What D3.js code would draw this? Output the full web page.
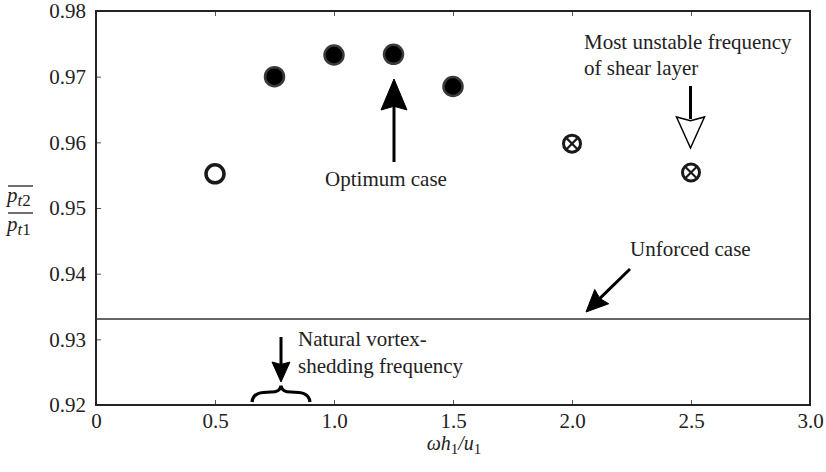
<!DOCTYPE html>
<html><head><meta charset="utf-8">
<script src="https://cdn.jsdelivr.net/npm/d3@7"></script>
<style>
html,body{margin:0;padding:0;background:#fff;}
svg text{font-family:"Liberation Serif","Times New Roman",serif;fill:#222;}
</style></head>
<body><svg id="c" width="826" height="472"></svg>
<script>
// ---- data ----
const xTicks = [0, 0.5, 1.0, 1.5, 2.0, 2.5, 3.0];
const xTickLabels = ["0", "0.5", "1.0", "1.5", "2.0", "2.5", "3.0"];
const yTicks = [0.92, 0.93, 0.94, 0.95, 0.96, 0.97, 0.98];
const yTickLabels = ["0.92", "0.93", "0.94", "0.95", "0.96", "0.97", "0.98"];
const openX = [0.5];
const openY = [0.9552];
const filledX = [0.75, 1.0, 1.25, 1.5];
const filledY = [0.9700, 0.9733, 0.9734, 0.9685];
const crossX = [2.0, 2.5];
const crossY = [0.9598, 0.9554];
const unforcedY = 0.9331;

(function(){
const svg = d3.select("#c");
const L = 96, R = 810, T = 11, B = 405;
const x = d3.scaleLinear().domain([0, 3]).range([L, R]);
const y = d3.scaleLinear().domain([0.92, 0.98]).range([B, T]);
const fs = 21;

// axes
const axB = d3.axisBottom(x).tickValues(xTicks).tickFormat((d,i)=>xTickLabels[i]).tickSizeInner(-5).tickSizeOuter(0).tickPadding(8);
const axL = d3.axisLeft(y).tickValues(yTicks).tickFormat((d,i)=>yTickLabels[i]).tickSizeInner(-5).tickSizeOuter(0).tickPadding(10);
const axT = d3.axisTop(x).tickValues(xTicks).tickFormat("").tickSizeInner(-5).tickSizeOuter(0);

function style(g){
  g.select(".domain").remove();
  g.selectAll(".tick line").attr("stroke","#555").attr("stroke-width",1);
  g.selectAll(".tick text").attr("font-size",fs).attr("font-family","Liberation Serif").attr("fill","#222");
}
svg.append("g").attr("transform",`translate(0,${B})`).call(axB).call(style);
svg.append("g").attr("transform",`translate(${L},0)`).call(axL).call(style);
svg.append("g").attr("transform",`translate(0,${T})`).call(axT).call(style);

// frame
svg.append("rect").attr("x",L).attr("y",T).attr("width",R-L).attr("height",B-T)
  .attr("fill","none").attr("stroke","#222").attr("stroke-width",2);

// unforced line
svg.append("line").attr("x1",L).attr("x2",R).attr("y1",y(unforcedY)).attr("y2",y(unforcedY))
  .attr("stroke","#333").attr("stroke-width",1.5);

// markers
svg.selectAll(".open").data(openX).join("circle").attr("class","open")
  .attr("cx",d=>x(d)).attr("cy",(d,i)=>y(openY[i])).attr("r",9)
  .attr("fill","#fff").attr("stroke","#1a1a1a").attr("stroke-width",3.5);
svg.selectAll(".filled").data(filledX).join("circle").attr("class","filled")
  .attr("cx",d=>x(d)).attr("cy",(d,i)=>y(filledY[i])).attr("r",9.5)
  .attr("fill","#000").attr("stroke","#3a3a3a").attr("stroke-width",2.5);
const cg = svg.selectAll(".cross").data(crossX).join("g").attr("class","cross")
  .attr("transform",(d,i)=>`translate(${x(d)},${y(crossY[i])})`);
cg.append("circle").attr("r",8.5).attr("fill","#fff").attr("stroke","#1a1a1a").attr("stroke-width",3);
const k = 8.5*Math.SQRT1_2;
cg.append("line").attr("x1",-k).attr("y1",-k).attr("x2",k).attr("y2",k).attr("stroke","#1a1a1a").attr("stroke-width",2.2);
cg.append("line").attr("x1",-k).attr("y1",k).attr("x2",k).attr("y2",-k).attr("stroke","#1a1a1a").attr("stroke-width",2.2);

// arrow helper
function arrow(x1,y1,x2,y2,headLen,halfW,open){
  const dx=x2-x1, dy=y2-y1, len=Math.hypot(dx,dy), ux=dx/len, uy=dy/len;
  const bx=x2-ux*headLen, by=y2-uy*headLen;
  const px=-uy, py=ux;
  svg.append("line").attr("x1",x1).attr("y1",y1).attr("x2",open?bx+ux*2:bx+ux*4).attr("y2",open?by+uy*2:by+uy*4)
    .attr("stroke","#000").attr("stroke-width",3);
  svg.append("path").attr("d",`M${x2},${y2}L${bx+px*halfW},${by+py*halfW}L${bx+ux*headLen*0.12},${by+uy*headLen*0.12}L${bx-px*halfW},${by-py*halfW}Z`)
    .attr("fill",open?"#fff":"#000").attr("stroke","#000").attr("stroke-width",open?1.5:1).attr("stroke-linejoin","miter");
}

// Optimum case
const ox = x(1.25)+0.5;
arrow(ox, 162, ox, 79, 31, 13, false);
svg.append("text").attr("x",386).attr("y",186).attr("text-anchor","middle").attr("font-size",fs).text("Optimum case");

// Most unstable frequency
svg.append("text").attr("x",584).attr("y",49).attr("font-size",fs).text("Most unstable frequency");
svg.append("text").attr("x",584).attr("y",75).attr("font-size",fs).text("of shear layer");
arrow(x(2.5)-0.5, 86, x(2.5)-0.5, 148, 31, 14, true);

// Unforced case
svg.append("text").attr("x",630).attr("y",256).attr("font-size",fs).text("Unforced case");
arrow(630, 269, 586, 312, 22, 10, false);

// Natural vortex-shedding frequency
svg.append("text").attr("x",298).attr("y",346).attr("font-size",fs).text("Natural vortex-");
svg.append("text").attr("x",298).attr("y",373).attr("font-size",fs).text("shedding frequency");
arrow(281, 337, 281, 382, 20, 9, false);
svg.append("path")
  .attr("d","M252,402 C253,393 261,392 271,392 C278,392 280,390 281,386 C282,390 284,392 291,392 C301,392 309,393 310,402")
  .attr("fill","none").attr("stroke","#000").attr("stroke-width",3.2);

// axis labels
const xl = svg.append("text").attr("x",454).attr("y",450).attr("text-anchor","middle").attr("font-size",20);
xl.append("tspan").attr("font-style","italic").text("ωh");
xl.append("tspan").attr("dy",4).attr("font-size",15).text("1");
xl.append("tspan").attr("dy",-4).attr("font-style","italic").text("/u");
xl.append("tspan").attr("dy",4).attr("font-size",15).text("1");

const yl1 = svg.append("text").attr("x",7).attr("y",202).attr("font-size",fs);
yl1.append("tspan").attr("font-style","italic").text("p");
yl1.append("tspan").attr("font-style","italic").attr("dy",4).attr("font-size",17).text("t");
yl1.append("tspan").attr("font-size",17).text("2");
const yl2 = svg.append("text").attr("x",7).attr("y",231).attr("font-size",fs);
yl2.append("tspan").attr("font-style","italic").text("p");
yl2.append("tspan").attr("font-style","italic").attr("dy",4).attr("font-size",17).text("t");
yl2.append("tspan").attr("font-size",17).text("1");
svg.append("line").attr("x1",8).attr("x2",33).attr("y1",186).attr("y2",186).attr("stroke","#222").attr("stroke-width",1.3);
svg.append("line").attr("x1",8).attr("x2",33).attr("y1",213).attr("y2",213).attr("stroke","#222").attr("stroke-width",1.3);
})();
</script></body></html>
